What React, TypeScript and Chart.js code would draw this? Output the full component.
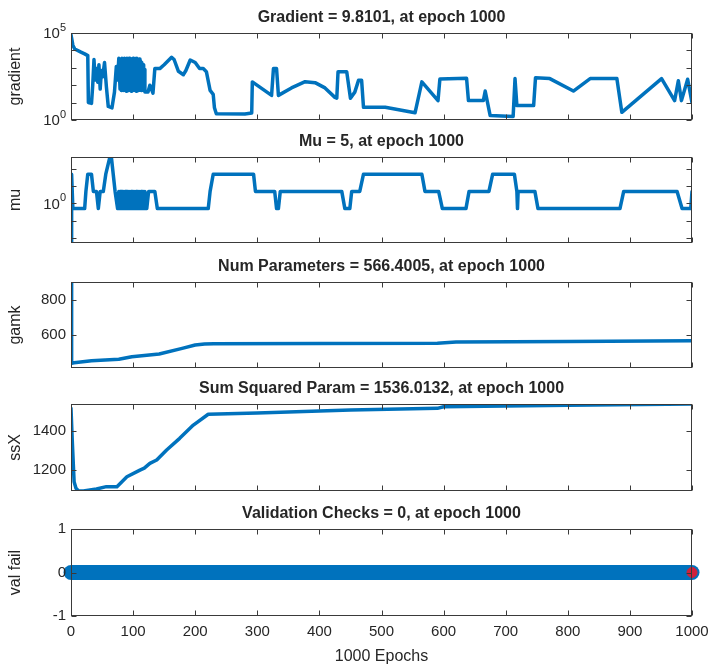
import React, { useEffect, useRef } from "react";
import { Chart, registerables } from "chart.js";

Chart.register(...registerables);

// ---------------- data ----------------
const epochTicks = [0, 100, 200, 300, 400, 500, 600, 700, 800, 900, 1000];

const gradEpochs = [
  0, 3, 6, 16, 22, 27, 28, 33, 35, 37,
  39, 41, 43, 45, 47, 49, 51, 54, 57, 60,
  66, 70, 73, 75, 77, 79, 80, 81, 82, 83,
  84, 85, 86, 87, 88, 89, 90, 91, 92, 93,
  94, 95, 96, 97, 98, 99, 100, 101, 102, 103,
  104, 105, 106, 107, 108, 109, 110, 111, 112, 113,
  114, 115, 116, 117, 118, 119, 124, 127, 132, 135,
  143, 150, 162, 166, 173, 181, 185, 192, 200, 207,
  213, 218, 224, 229, 231, 234, 280, 291, 292, 323,
  326, 331, 334, 355, 377, 393, 409, 425, 428, 430,
  444, 450, 457, 463, 468, 471, 506, 554, 565, 591,
  594, 637, 640, 664, 667, 675, 712, 715, 718, 745,
  748, 771, 809, 836, 879, 887, 951, 972, 978, 983,
  993, 1000,
];
const gradValues = [
  80000, 20000, 12000, 7900, 6300, 5000, 10, 9, 100, 3000,
  200, 900, 150, 1500, 60, 700, 300, 2000, 80, 6,
  5, 40, 1200, 200, 3500, 60, 3000, 50, 3500, 70,
  3200, 50, 3500, 60, 3000, 45, 3500, 55, 3400, 50,
  3500, 60, 3000, 45, 3300, 50, 3500, 60, 3000, 50,
  3400, 45, 3500, 55, 3000, 50, 3200, 60, 2500, 50,
  2000, 60, 1500, 50, 800, 41, 41, 100, 35, 900,
  900, 1500, 4000, 3000, 630, 400, 700, 2800, 2000, 900,
  900, 600, 50, 30, 5, 2.3, 2.2, 2.5, 155, 26,
  900, 900, 26, 70, 160, 140, 70, 20, 18, 590,
  590, 18, 40, 190, 190, 5.4, 5.4, 2.6, 155, 13,
  224, 250, 13, 13, 46, 1.8, 1.6, 240, 6.8, 6.8,
  270, 240, 46, 240, 240, 2.75, 240, 13, 180, 13,
  220, 9.8101,
];

const muEpochs = [
  0, 1, 3, 22, 24, 27, 33, 36, 41, 44,
  47, 52, 56, 62, 65, 68, 71, 75, 77, 78,
  79, 80, 81, 82, 83, 84, 85, 86, 87, 88,
  89, 90, 91, 92, 93, 94, 95, 96, 97, 98,
  99, 100, 101, 102, 103, 104, 105, 106, 107, 108,
  109, 110, 111, 112, 113, 114, 115, 116, 117, 118,
  119, 122, 125, 135, 139, 221, 224, 229, 294, 297,
  328, 331, 334, 337, 436, 441, 449, 452, 465, 471,
  565, 570, 592, 598, 636, 641, 673, 679, 714, 718,
  719, 720, 747, 752, 884, 890, 976, 984, 998, 1000,
];
const muValues = [
  0.005, 50, 0.5, 0.5, 5, 50, 50, 5, 5, 0.5,
  5, 5, 50, 400, 500, 50, 5, 0.5, 5, 0.5,
  5, 0.5, 5, 0.5, 5, 0.5, 5, 0.5, 5, 0.5,
  5, 0.5, 5, 0.5, 5, 0.5, 5, 0.5, 5, 0.5,
  5, 0.5, 5, 0.5, 5, 0.5, 5, 0.5, 5, 0.5,
  5, 0.5, 5, 0.5, 5, 0.5, 5, 0.5, 5, 0.5,
  5, 0.5, 5, 5, 0.5, 0.5, 5, 50, 50, 5,
  5, 0.5, 0.5, 5, 5, 0.5, 0.5, 5, 5, 50,
  50, 5, 5, 0.5, 0.5, 5, 5, 50, 50, 5,
  0.5, 5, 5, 0.5, 0.5, 5, 5, 0.5, 0.5, 5,
];

const gamkEpochs = [0, 1, 5, 33, 77, 98, 142, 179, 200, 215, 230, 400, 590, 620, 800, 1000];
const gamkValues = [905, 437, 440, 452, 460, 475, 491, 523, 542, 548, 550, 551, 553, 560, 563, 566.4005];

const ssxEpochs = [0, 2, 5, 8, 12, 20, 41, 57, 74, 90, 111, 118, 127, 138, 154, 175, 197, 221, 300, 400, 450, 590, 600, 800, 1000];
const ssxValues = [1514, 1353, 1142, 1109, 1095, 1095, 1105, 1117, 1117, 1167, 1201, 1211, 1235, 1252, 1303, 1362, 1429, 1484, 1490, 1500, 1505, 1514, 1522, 1530, 1536.0132];

const valEpochs = [0, 1000];
const valValues = [0, 0];
const bestEpochs = [1000];
const bestValues = [0];

// ---------------- styling ----------------
const FONT = "'Liberation Sans', Arial, Helvetica, sans-serif";
const TEXT = "#262626";
const AXIS = "#3a3a3a";
const BLUE = "#0072BD";
const RED = "#D0213A";
const LEFT = 71;
const RIGHT = 692;
const W = 713;
const H = 667;
const TICK_FONT = 15;
const LABEL_FONT = 16;
const TITLE_FONT = 16;

const pts = (xs: number[], ys: number[]) => xs.map((x, i) => ({ x, y: ys[i] }));

type YLabel = { value: number; text: string; exp?: string };

type Panel = {
  top: number;
  bottom: number;
  title: string;
  yTitle: string;
  yType: "linear" | "logarithmic";
  yMin: number;
  yMax: number;
  yTicks: number[];
  yLabels: YLabel[];
  showX: boolean;
  datasets: any[];
};

const lineDs = (xs: number[], ys: number[]) => ({
  data: pts(xs, ys),
  borderColor: BLUE,
  borderWidth: 3.5,
  pointRadius: 0,
  tension: 0,
  borderJoinStyle: "round",
  borderCapStyle: "round",
});

const panels: Panel[] = [
  {
    top: 33, bottom: 120,
    title: "Gradient = 9.8101, at epoch 1000",
    yTitle: "gradient",
    yType: "logarithmic", yMin: 1, yMax: 100000,
    yTicks: [1, 10, 100, 1000, 10000, 100000],
    yLabels: [{ value: 100000, text: "10", exp: "5" }, { value: 1, text: "10", exp: "0" }],
    showX: false,
    datasets: [lineDs(gradEpochs, gradValues)],
  },
  {
    top: 157, bottom: 243,
    title: "Mu = 5, at epoch 1000",
    yTitle: "mu",
    yType: "logarithmic", yMin: 0.005, yMax: 500,
    yTicks: [0.01, 0.1, 1, 10, 100],
    yLabels: [{ value: 1, text: "10", exp: "0" }],
    showX: false,
    datasets: [lineDs(muEpochs, muValues)],
  },
  {
    top: 282, bottom: 368,
    title: "Num Parameters = 566.4005, at epoch 1000",
    yTitle: "gamk",
    yType: "linear", yMin: 410, yMax: 905,
    yTicks: [600, 800],
    yLabels: [{ value: 800, text: "800" }, { value: 600, text: "600" }],
    showX: false,
    datasets: [lineDs(gamkEpochs, gamkValues)],
  },
  {
    top: 404, bottom: 491,
    title: "Sum Squared Param = 1536.0132, at epoch 1000",
    yTitle: "ssX",
    yType: "linear", yMin: 1095, yMax: 1536.0132,
    yTicks: [1200, 1400],
    yLabels: [{ value: 1400, text: "1400" }, { value: 1200, text: "1200" }],
    showX: false,
    datasets: [lineDs(ssxEpochs, ssxValues)],
  },
  {
    top: 529, bottom: 616,
    title: "Validation Checks = 0, at epoch 1000",
    yTitle: "val fail",
    yType: "linear", yMin: -1, yMax: 1,
    yTicks: [-1, 0, 1],
    yLabels: [{ value: 1, text: "1" }, { value: 0, text: "0" }, { value: -1, text: "-1" }],
    showX: true,
    datasets: [
      {
        data: pts(valEpochs, valValues),
        borderColor: BLUE,
        borderWidth: 15,
        borderCapStyle: "round",
        pointRadius: 0,
        clip: false,
        order: 2,
      },
      {
        data: pts(bestEpochs, bestValues),
        showLine: false,
        pointRadius: 5,
        pointBackgroundColor: RED,
        pointBorderColor: RED,
        clip: false,
        order: 1,
      },
    ],
  },
];

const matlabPlugin = {
  id: "matlab",
  afterDraw(chart: any, _args: any, o: any) {
    const ctx: CanvasRenderingContext2D = chart.ctx;
    const a = chart.chartArea;
    const xs = chart.scales.x;
    const ys = chart.scales.y;
    const p: Panel = o.panel;
    ctx.save();
    const L = Math.round(a.left) + 0.5;
    const R = Math.round(a.right) - 0.5;
    const T = Math.round(a.top) + 0.5;
    const B = Math.round(a.bottom) - 0.5;
    ctx.strokeStyle = AXIS;
    ctx.lineWidth = 1;
    ctx.strokeRect(L, T, R - L, B - T);
    const TK = 5;
    ctx.beginPath();
    for (const v of epochTicks) {
      const px = Math.round(xs.getPixelForValue(v)) + 0.5;
      ctx.moveTo(px, B);
      ctx.lineTo(px, B - TK);
      ctx.moveTo(px, T);
      ctx.lineTo(px, T + TK);
    }
    for (const v of p.yTicks) {
      const py = Math.round(ys.getPixelForValue(v)) + 0.5;
      ctx.moveTo(L, py);
      ctx.lineTo(L + TK, py);
      ctx.moveTo(R, py);
      ctx.lineTo(R - TK, py);
    }
    ctx.stroke();

    ctx.fillStyle = TEXT;
    ctx.textBaseline = "middle";
    ctx.textAlign = "right";
    for (const l of p.yLabels) {
      const py = ys.getPixelForValue(l.value);
      const x = a.left - 5;
      if (l.exp) {
        ctx.font = `11px ${FONT}`;
        const ew = ctx.measureText(l.exp).width;
        ctx.fillText(l.exp, x, py - 5);
        ctx.font = `${TICK_FONT}px ${FONT}`;
        ctx.fillText(l.text, x - ew, py + 1);
      } else {
        ctx.font = `${TICK_FONT}px ${FONT}`;
        ctx.fillText(l.text, x, py);
      }
    }

    if (p.showX) {
      ctx.font = `${TICK_FONT}px ${FONT}`;
      ctx.textAlign = "center";
      for (const v of epochTicks) {
        ctx.fillText(String(v), xs.getPixelForValue(v), a.bottom + 16);
      }
      ctx.font = `${LABEL_FONT}px ${FONT}`;
      ctx.fillText("1000 Epochs", (a.left + a.right) / 2, a.bottom + 41);
    }

    ctx.font = `bold ${TITLE_FONT}px ${FONT}`;
    ctx.textAlign = "center";
    ctx.fillText(p.title, (a.left + a.right) / 2, a.top - 15);

    ctx.translate(16, (a.top + a.bottom) / 2);
    ctx.rotate(-Math.PI / 2);
    ctx.font = `${LABEL_FONT}px ${FONT}`;
    ctx.textAlign = "center";
    ctx.fillText(p.yTitle, 0, 0);
    ctx.restore();
  },
};

function PanelChart({ panel }: { panel: Panel }) {
  const ref = useRef<HTMLCanvasElement | null>(null);
  useEffect(() => {
    if (!ref.current) return;
    const chart = new Chart(ref.current, {
      type: "line",
      data: { datasets: panel.datasets },
      options: {
        responsive: false,
        animation: false,
        events: [],
        layout: {
          padding: { left: LEFT, right: W - RIGHT, top: panel.top, bottom: H - panel.bottom },
        },
        scales: {
          x: { type: "linear", min: 0, max: 1000, display: false },
          y: { type: panel.yType, min: panel.yMin, max: panel.yMax, display: false },
        },
        plugins: {
          legend: { display: false },
          tooltip: { enabled: false },
          title: { display: false },
          matlab: { panel },
        } as any,
      },
      plugins: [matlabPlugin as any],
    } as any);
    return () => chart.destroy();
  }, [panel]);
  return (
    <canvas
      ref={ref}
      width={W}
      height={H}
      style={{ position: "absolute", left: 0, top: 0, width: W, height: H }}
    />
  );
}

export default function App() {
  return (
    <div style={{ position: "fixed", left: 0, top: 0, width: W, height: H, background: "#ffffff" }}>
      {panels.map((p, i) => (
        <PanelChart key={i} panel={p} />
      ))}
    </div>
  );
}
